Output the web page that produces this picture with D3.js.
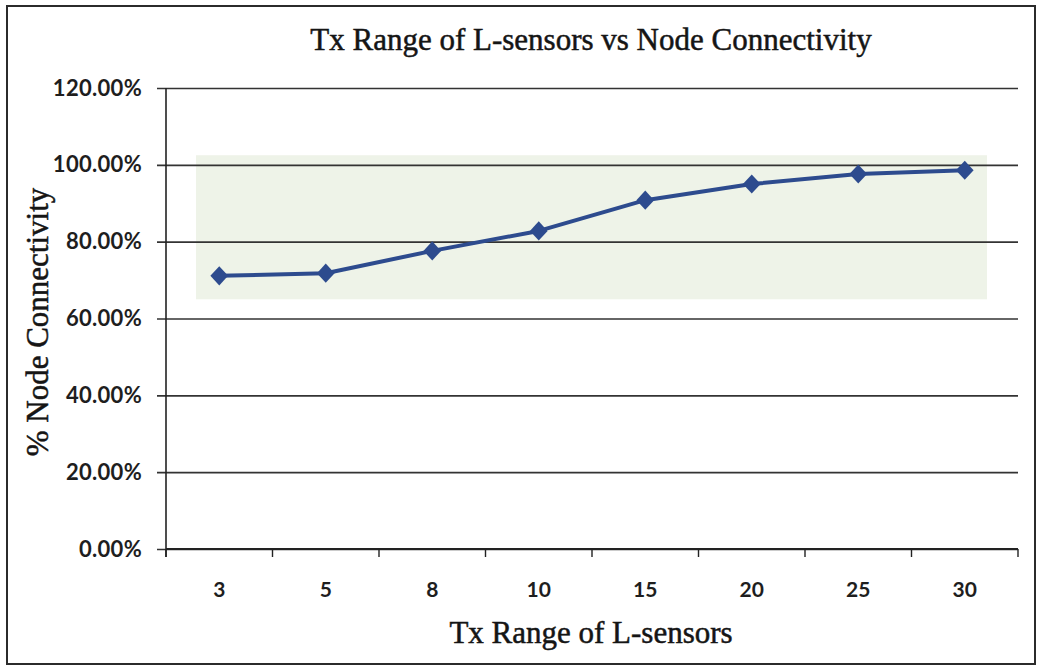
<!DOCTYPE html>
<html>
<head>
<meta charset="utf-8">
<script src="https://cdn.jsdelivr.net/npm/d3@7"></script>
<style>
  html, body { margin: 0; padding: 0; background: #fff; }
  svg { display: block; }
</style>
</head>
<body>
<svg id="chart" width="1041" height="669"></svg>
<script>
// Transmission range categories and measured node connectivity (%)
const categories = ["3", "5", "8", "10", "15", "20", "25", "30"];
const connectivity = [71.1, 71.8, 77.6, 82.8, 90.8, 95.0, 97.6, 98.6];
const yTicks = [0, 20, 40, 60, 80, 100, 120];

const svg = d3.select("#chart");
const m = { left: 166, right: 1018, top: 88, bottom: 549 };
const sans = "Lato, 'Open Sans', sans-serif";
const serif = "'Liberation Serif', 'DejaVu Serif', serif";

// outer frame
svg.append("rect")
  .attr("x", 7).attr("y", 6).attr("width", 1028).attr("height", 658)
  .attr("fill", "#fff").attr("stroke", "#2b2b2b").attr("stroke-width", 2);

const x = d3.scaleBand().domain(categories).range([m.left, m.right]);
const y = d3.scaleLinear().domain([0, 120]).range([m.bottom, m.top]);

// pale tinted band behind the upper part of the series
svg.append("rect")
  .attr("x", 196).attr("y", y(102.5))
  .attr("width", 791).attr("height", y(65) - y(102.5))
  .attr("fill", "#eef3e8");

// horizontal gridlines with left tick marks
const yAxis = d3.axisLeft(y)
  .tickValues(yTicks)
  .tickSize(-(m.right - m.left))
  .tickSizeOuter(0)
  .tickFormat(d => d3.format(".2f")(d) + "%");

const gy = svg.append("g")
  .attr("transform", `translate(${m.left},0)`)
  .call(yAxis);
gy.select(".domain").remove();
gy.selectAll(".tick line")
  .attr("x1", -9)
  .attr("stroke", "#333").attr("stroke-width", 1.6);
gy.selectAll(".tick text")
  .attr("x", -24)
  .attr("font-family", sans)
  .attr("font-weight", "bold")
  .attr("font-size", 22)
  .attr("letter-spacing", 0.3)
  .attr("fill", "#1e1e1e");

// vertical axis line
svg.append("line")
  .attr("x1", m.left).attr("x2", m.left)
  .attr("y1", m.top).attr("y2", m.bottom + 8)
  .attr("stroke", "#222").attr("stroke-width", 1.6);

// category axis: ticks sit at the band boundaries
const gx = svg.append("g")
  .attr("transform", `translate(0,${m.bottom})`);
gx.append("line")
  .attr("x1", m.left).attr("x2", m.right)
  .attr("stroke", "#222").attr("stroke-width", 1.8);
const bounds = categories.map(c => x(c)).concat([x(categories[categories.length - 1]) + x.bandwidth()]);
gx.selectAll("line.tk").data(bounds).join("line")
  .attr("class", "tk")
  .attr("x1", d => d).attr("x2", d => d)
  .attr("y1", 0).attr("y2", 8)
  .attr("stroke", "#222").attr("stroke-width", 1.4);
gx.selectAll("text").data(categories).join("text")
  .attr("x", d => x(d) + x.bandwidth() / 2)
  .attr("y", 48)
  .attr("text-anchor", "middle")
  .attr("font-family", sans)
  .attr("font-weight", "bold")
  .attr("font-size", 21)
  .attr("fill", "#1e1e1e")
  .text(d => d);

// series line
const line = d3.line()
  .x((d, i) => x(categories[i]) + x.bandwidth() / 2)
  .y(d => y(d));
svg.append("path")
  .datum(connectivity)
  .attr("d", line)
  .attr("fill", "none")
  .attr("stroke", "#2d4b8e")
  .attr("stroke-width", 4)
  .attr("stroke-linejoin", "round");

// diamond markers
svg.selectAll("path.mk").data(connectivity).join("path")
  .attr("class", "mk")
  .attr("d", d3.symbol(d3.symbolDiamond2, 200))
  .attr("transform", (d, i) => `translate(${x(categories[i]) + x.bandwidth() / 2},${y(d)}) scale(1,1.08)`)
  .attr("fill", "#2d4b8e");

// titles (regular serif with a hairline stroke for a dense print look)
function serifText(sel) {
  return sel.attr("font-family", serif).attr("font-size", 31)
    .attr("fill", "#151515").attr("stroke", "#151515").attr("stroke-width", 0.5)
    .attr("text-anchor", "middle");
}

serifText(svg.append("text"))
  .attr("x", 591).attr("y", 50)
  .text("Tx Range of L-sensors vs Node Connectivity");

serifText(svg.append("text"))
  .attr("x", 591).attr("y", 643)
  .text("Tx Range of L-sensors");

serifText(svg.append("text"))
  .attr("transform", "translate(48,322) rotate(-90)")
  .text("% Node Connectivity");
</script>
</body>
</html>
